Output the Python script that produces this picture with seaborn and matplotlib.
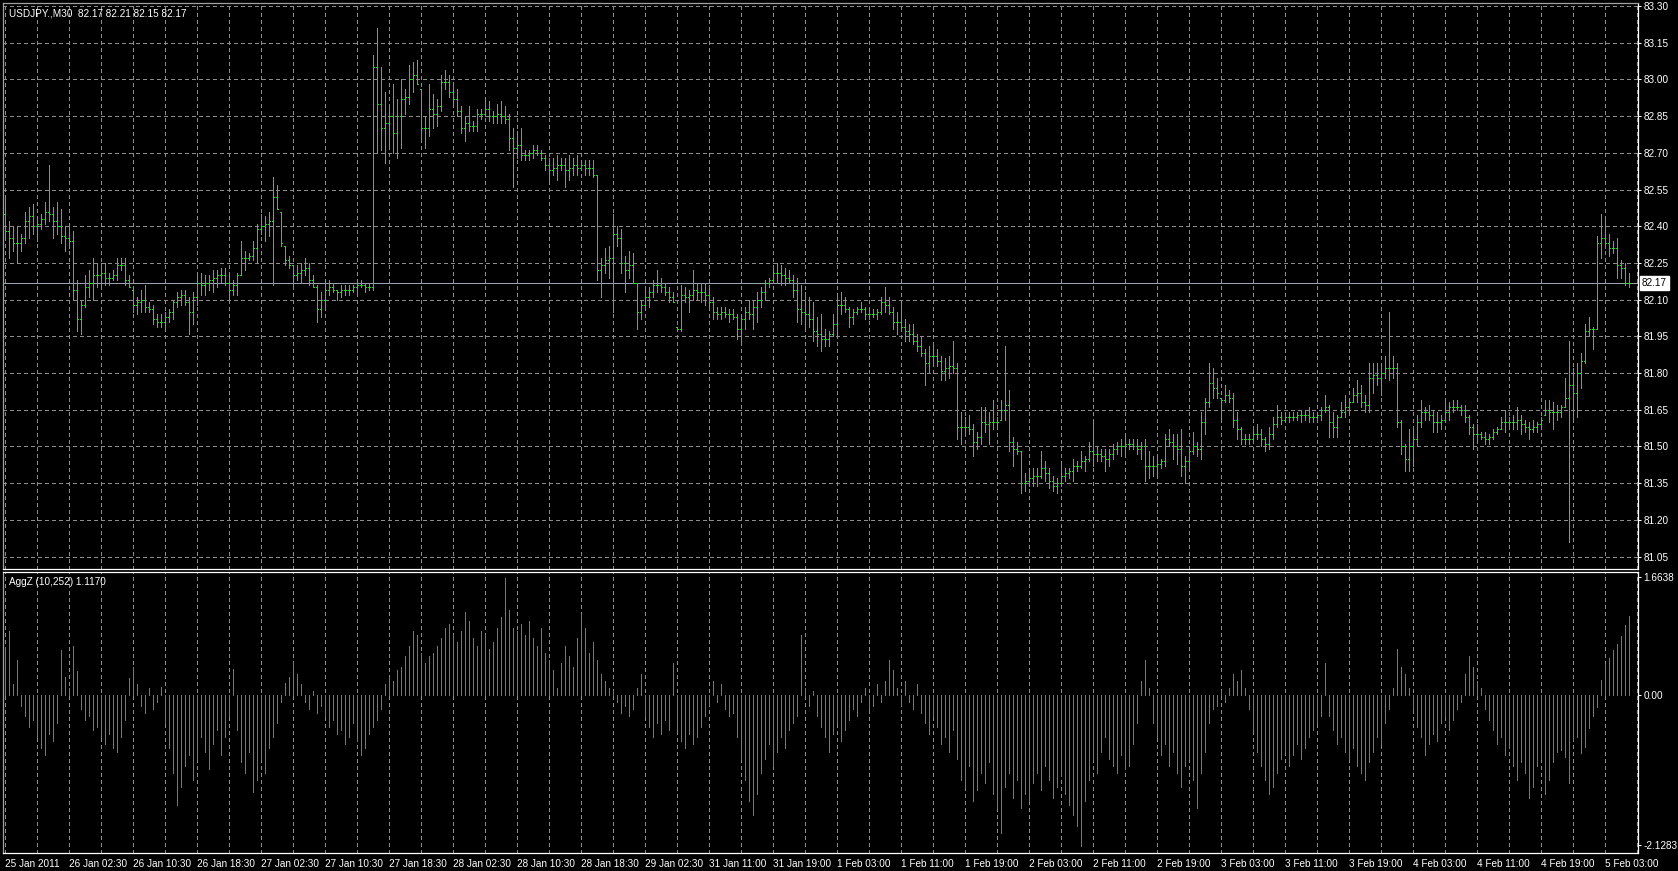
import numpy as np
import matplotlib
matplotlib.use("Agg")
import matplotlib.pyplot as plt
import seaborn as sns
from matplotlib.transforms import blended_transform_factory

# USDJPY M30 bars (bar 0 = 25 Jan 18:30)
highs = [
    82.51, 82.42, 82.40, 82.40, 82.37, 82.46, 82.48, 82.49, 82.43, 82.45,
    82.50, 82.65, 82.48, 82.50, 82.47, 82.40, 82.40, 82.38, 82.18, 82.10,
    82.20, 82.22, 82.27, 82.25, 82.25, 82.25, 82.21, 82.22, 82.27, 82.27,
    82.27, 82.20, 82.14, 82.11, 82.14, 82.16, 82.09, 82.08, 82.04, 82.04,
    82.05, 82.06, 82.10, 82.13, 82.14, 82.14, 82.11, 82.13, 82.21, 82.21,
    82.20, 82.20, 82.22, 82.22, 82.23, 82.23, 82.21, 82.18, 82.21, 82.34,
    82.30, 82.29, 82.34, 82.41, 82.45, 82.44, 82.46, 82.60, 82.57, 82.46,
    82.32, 82.28, 82.24, 82.24, 82.25, 82.27, 82.25, 82.20, 82.16, 82.13,
    82.17, 82.18, 82.17, 82.14, 82.16, 82.16, 82.16, 82.16, 82.18, 82.18,
    82.17, 82.17, 83.10, 83.21, 83.05, 82.95, 82.90, 82.98, 82.92, 83.00,
    82.96, 83.06, 83.07, 83.08, 82.96, 82.85, 82.98, 82.94, 82.92, 83.02,
    83.04, 83.02, 82.99, 82.96, 82.89, 82.85, 82.89, 82.83, 82.88, 82.88,
    82.92, 82.91, 82.87, 82.90, 82.91, 82.89, 82.86, 82.80, 82.79, 82.80,
    82.71, 82.71, 82.73, 82.73, 82.71, 82.69, 82.68, 82.68, 82.69, 82.68,
    82.68, 82.69, 82.68, 82.69, 82.67, 82.67, 82.67, 82.67, 82.61, 82.27,
    82.31, 82.32, 82.45, 82.40, 82.39, 82.28, 82.30, 82.29, 82.17, 82.10,
    82.15, 82.15, 82.18, 82.22, 82.19, 82.17, 82.15, 82.13, 81.99, 82.16,
    82.15, 82.14, 82.22, 82.17, 82.17, 82.17, 82.16, 82.11, 82.07, 82.07,
    82.07, 82.06, 82.06, 82.04, 82.04, 82.07, 82.10, 82.10, 82.13, 82.15,
    82.18, 82.19, 82.23, 82.25, 82.24, 82.23, 82.22, 82.20, 82.19, 82.16,
    82.13, 82.11, 82.09, 82.03, 82.04, 81.98, 81.97, 82.04, 82.11, 82.13,
    82.11, 82.07, 82.06, 82.07, 82.09, 82.07, 82.06, 82.06, 82.06, 82.11,
    82.15, 82.11, 82.07, 82.05, 82.09, 82.02, 82.00, 82.00, 81.96, 81.95,
    81.90, 81.91, 81.91, 81.90, 81.87, 81.86, 81.87, 81.93, 81.84, 81.64,
    81.62, 81.63, 81.59, 81.56, 81.66, 81.66, 81.64, 81.69, 81.62, 81.69,
    81.91, 81.73, 81.54, 81.52, 81.48, 81.39, 81.41, 81.41, 81.41, 81.48,
    81.44, 81.41, 81.38, 81.37, 81.43, 81.41, 81.41, 81.45, 81.44, 81.48,
    81.46, 81.52, 81.60, 81.50, 81.49, 81.49, 81.49, 81.51, 81.52, 81.53,
    81.55, 81.53, 81.53, 81.53, 81.52, 81.53, 81.48, 81.46, 81.46, 81.45,
    81.55, 81.57, 81.55, 81.55, 81.57, 81.46, 81.49, 81.56, 81.52, 81.64,
    81.70, 81.84, 81.82, 81.78, 81.70, 81.75, 81.73, 81.72, 81.64, 81.58,
    81.55, 81.55, 81.57, 81.59, 81.57, 81.54, 81.58, 81.62, 81.67, 81.64,
    81.63, 81.64, 81.64, 81.64, 81.65, 81.65, 81.66, 81.64, 81.64, 81.66,
    81.71, 81.67, 81.64, 81.63, 81.68, 81.71, 81.69, 81.74, 81.77, 81.75,
    81.71, 81.84, 81.84, 81.84, 81.84, 81.87, 82.05, 81.87, 81.84, 81.61,
    81.51, 81.57, 81.57, 81.63, 81.69, 81.66, 81.67, 81.65, 81.64, 81.63,
    81.68, 81.68, 81.69, 81.69, 81.67, 81.67, 81.63, 81.59, 81.59, 81.56,
    81.56, 81.55, 81.57, 81.58, 81.62, 81.65, 81.62, 81.63, 81.66, 81.63,
    81.61, 81.60, 81.61, 81.60, 81.62, 81.69, 81.69, 81.68, 81.67, 81.67,
    81.78, 81.93, 81.82, 81.84, 81.88, 82.00, 82.03, 81.99, 82.36, 82.45,
    82.43, 82.37, 82.34, 82.35, 82.26, 82.25, 82.21,
]
lows = [
    82.35, 82.27, 82.30, 82.25, 82.30, 82.33, 82.35, 82.37, 82.34, 82.39,
    82.41, 82.42, 82.35, 82.37, 82.33, 82.30, 82.31, 82.10, 81.97, 81.96,
    82.07, 82.11, 82.10, 82.15, 82.16, 82.16, 82.16, 82.18, 82.18, 82.22,
    82.16, 82.15, 82.05, 82.04, 82.05, 82.05, 82.05, 82.00, 81.99, 81.99,
    81.97, 82.01, 82.02, 82.07, 82.08, 82.08, 81.96, 82.00, 82.08, 82.12,
    82.12, 82.14, 82.13, 82.15, 82.17, 82.16, 82.10, 82.12, 82.12, 82.20,
    82.22, 82.26, 82.26, 82.25, 82.37, 82.34, 82.36, 82.16, 82.47, 82.32,
    82.24, 82.23, 82.15, 82.18, 82.17, 82.20, 82.16, 82.15, 82.01, 82.03,
    82.06, 82.12, 82.13, 82.10, 82.11, 82.12, 82.12, 82.13, 82.13, 82.15,
    82.13, 82.14, 82.14, 82.70, 82.71, 82.66, 82.73, 82.70, 82.68, 82.72,
    82.86, 82.90, 82.95, 82.98, 82.75, 82.72, 82.77, 82.80, 82.81, 82.87,
    82.96, 82.93, 82.90, 82.85, 82.78, 82.75, 82.79, 82.79, 82.79, 82.84,
    82.85, 82.83, 82.82, 82.82, 82.82, 82.82, 82.71, 82.56, 82.68, 82.67,
    82.67, 82.67, 82.68, 82.69, 82.67, 82.63, 82.59, 82.61, 82.59, 82.63,
    82.56, 82.59, 82.61, 82.61, 82.63, 82.61, 82.61, 82.60, 82.18, 82.11,
    82.21, 82.19, 82.05, 82.32, 82.21, 82.13, 82.19, 82.17, 81.98, 82.02,
    82.07, 82.07, 82.11, 82.13, 82.13, 82.12, 82.09, 82.09, 81.98, 81.97,
    82.09, 82.05, 82.10, 82.10, 82.09, 82.08, 82.07, 82.02, 82.02, 82.02,
    82.03, 82.01, 82.02, 81.94, 81.92, 81.98, 82.02, 81.98, 82.01, 82.07,
    82.10, 82.15, 82.17, 82.17, 82.16, 82.16, 82.17, 82.11, 82.01, 82.00,
    81.98, 81.99, 81.93, 81.91, 81.89, 81.91, 81.91, 81.95, 81.95, 82.04,
    82.05, 81.99, 82.00, 82.04, 82.05, 82.02, 82.02, 82.03, 82.02, 82.04,
    82.05, 82.04, 81.98, 81.96, 81.97, 81.93, 81.93, 81.92, 81.89, 81.87,
    81.75, 81.80, 81.84, 81.83, 81.77, 81.77, 81.78, 81.80, 81.53, 81.51,
    81.55, 81.55, 81.46, 81.49, 81.51, 81.56, 81.51, 81.57, 81.57, 81.61,
    81.61, 81.48, 81.42, 81.47, 81.31, 81.32, 81.34, 81.34, 81.34, 81.37,
    81.36, 81.33, 81.32, 81.31, 81.34, 81.36, 81.37, 81.36, 81.40, 81.41,
    81.40, 81.44, 81.42, 81.44, 81.44, 81.40, 81.42, 81.45, 81.47, 81.46,
    81.47, 81.49, 81.49, 81.47, 81.45, 81.36, 81.37, 81.38, 81.37, 81.41,
    81.42, 81.50, 81.45, 81.43, 81.38, 81.35, 81.41, 81.47, 81.46, 81.45,
    81.55, 81.66, 81.70, 81.70, 81.60, 81.68, 81.68, 81.58, 81.53, 81.51,
    81.51, 81.51, 81.52, 81.53, 81.50, 81.48, 81.49, 81.53, 81.58, 81.59,
    81.60, 81.60, 81.61, 81.61, 81.60, 81.61, 81.60, 81.60, 81.60, 81.61,
    81.64, 81.54, 81.54, 81.54, 81.62, 81.62, 81.64, 81.68, 81.68, 81.66,
    81.64, 81.64, 81.72, 81.75, 81.71, 81.78, 81.77, 81.78, 81.58, 81.47,
    81.40, 81.40, 81.42, 81.50, 81.58, 81.61, 81.61, 81.56, 81.56, 81.57,
    81.60, 81.61, 81.64, 81.65, 81.63, 81.60, 81.55, 81.49, 81.53, 81.53,
    81.51, 81.51, 81.53, 81.55, 81.57, 81.56, 81.57, 81.57, 81.57, 81.55,
    81.56, 81.53, 81.56, 81.56, 81.57, 81.63, 81.60, 81.57, 81.61, 81.62,
    81.66, 81.11, 81.61, 81.62, 81.74, 81.84, 81.95, 81.90, 81.98, 82.27,
    82.31, 82.28, 82.29, 82.19, 82.19, 82.16, 82.15,
]
closes = [
    82.38, 82.35, 82.33, 82.33, 82.35, 82.42, 82.44, 82.40, 82.41, 82.43,
    82.46, 82.45, 82.42, 82.40, 82.36, 82.35, 82.34, 82.14, 82.02, 82.08,
    82.15, 82.17, 82.20, 82.20, 82.21, 82.19, 82.19, 82.20, 82.24, 82.24,
    82.18, 82.15, 82.08, 82.09, 82.10, 82.07, 82.06, 82.02, 82.01, 82.01,
    82.03, 82.05, 82.09, 82.11, 82.12, 82.09, 82.05, 82.11, 82.17, 82.16,
    82.17, 82.18, 82.19, 82.20, 82.20, 82.17, 82.14, 82.16, 82.20, 82.27,
    82.27, 82.28, 82.31, 82.39, 82.40, 82.41, 82.42, 82.52, 82.47, 82.33,
    82.26, 82.24, 82.20, 82.21, 82.22, 82.23, 82.18, 82.15, 82.06, 82.10,
    82.14, 82.15, 82.14, 82.13, 82.14, 82.14, 82.14, 82.15, 82.16, 82.16,
    82.15, 82.15, 83.05, 82.90, 82.80, 82.82, 82.85, 82.78, 82.85, 82.92,
    82.93, 83.00, 83.02, 82.98, 82.80, 82.80, 82.88, 82.86, 82.89, 82.99,
    82.99, 82.95, 82.92, 82.87, 82.80, 82.82, 82.81, 82.81, 82.86, 82.86,
    82.88, 82.85, 82.85, 82.86, 82.85, 82.84, 82.76, 82.72, 82.73, 82.69,
    82.69, 82.70, 82.71, 82.70, 82.68, 82.65, 82.63, 82.64, 82.65, 82.65,
    82.63, 82.64, 82.65, 82.64, 82.65, 82.64, 82.64, 82.61, 82.22, 82.24,
    82.26, 82.27, 82.37, 82.35, 82.25, 82.22, 82.24, 82.17, 82.05, 82.08,
    82.11, 82.13, 82.16, 82.16, 82.15, 82.13, 82.11, 82.09, 81.98, 82.12,
    82.11, 82.12, 82.14, 82.13, 82.13, 82.12, 82.09, 82.05, 82.04, 82.05,
    82.04, 82.04, 82.03, 81.98, 82.02, 82.05, 82.04, 82.07, 82.10, 82.13,
    82.17, 82.18, 82.21, 82.21, 82.20, 82.19, 82.18, 82.14, 82.06, 82.05,
    82.04, 82.02, 81.97, 81.96, 81.94, 81.94, 81.96, 82.00, 82.08, 82.08,
    82.06, 82.03, 82.05, 82.06, 82.06, 82.04, 82.04, 82.04, 82.05, 82.09,
    82.08, 82.05, 82.01, 82.01, 81.99, 81.97, 81.96, 81.93, 81.91, 81.88,
    81.84, 81.87, 81.87, 81.85, 81.81, 81.82, 81.83, 81.82, 81.58, 81.58,
    81.58, 81.57, 81.52, 81.54, 81.60, 81.59, 81.60, 81.60, 81.60, 81.65,
    81.67, 81.52, 81.49, 81.48, 81.35, 81.36, 81.37, 81.38, 81.38, 81.41,
    81.39, 81.36, 81.34, 81.35, 81.38, 81.39, 81.40, 81.42, 81.42, 81.44,
    81.45, 81.48, 81.47, 81.47, 81.46, 81.45, 81.47, 81.49, 81.50, 81.50,
    81.51, 81.51, 81.50, 81.49, 81.50, 81.42, 81.42, 81.42, 81.43, 81.44,
    81.53, 81.52, 81.50, 81.49, 81.42, 81.44, 81.48, 81.50, 81.49, 81.60,
    81.68, 81.76, 81.74, 81.72, 81.69, 81.71, 81.70, 81.61, 81.57, 81.53,
    81.53, 81.53, 81.55, 81.55, 81.53, 81.51, 81.55, 81.59, 81.62, 81.61,
    81.62, 81.62, 81.62, 81.63, 81.63, 81.63, 81.62, 81.62, 81.63, 81.65,
    81.66, 81.60, 81.58, 81.62, 81.64, 81.66, 81.68, 81.71, 81.72, 81.68,
    81.67, 81.78, 81.79, 81.78, 81.80, 81.82, 81.82, 81.82, 81.60, 81.50,
    81.45, 81.50, 81.53, 81.60, 81.64, 81.64, 81.63, 81.60, 81.60, 81.61,
    81.64, 81.66, 81.66, 81.66, 81.65, 81.62, 81.58, 81.55, 81.55, 81.54,
    81.53, 81.54, 81.56, 81.57, 81.60, 81.60, 81.60, 81.60, 81.61, 81.59,
    81.58, 81.57, 81.58, 81.59, 81.61, 81.65, 81.64, 81.64, 81.64, 81.66,
    81.70, 81.75, 81.72, 81.80, 81.85, 81.97, 81.98, 81.98, 82.33, 82.35,
    82.33, 82.31, 82.31, 82.24, 82.23, 82.17, 82.17,
]
first_open = 82.45

# AggZ (10,252) histogram
aggz = [
    0.68, 0.90, 0.15, 0.50, -0.15, -0.30, -0.45, -0.35, -0.60, -0.75,
    -0.85, -0.55, -0.65, -0.40, 0.63, 0.26, 0.10, 0.69, 0.34, -0.20,
    -0.35, -0.30, -0.50, -0.45, -0.60, -0.70, -0.55, -0.75, -0.80, -0.60,
    -0.35, 0.24, 0.39, 0.15, -0.15, -0.25, 0.10, -0.20, -0.10, 0.12,
    -0.40, -0.75, -1.10, -1.55, -1.30, -1.00, -0.85, -1.20, -0.90, -0.60,
    -0.80, -1.05, -0.70, -0.50, -0.85, -0.60, -0.30, 0.37, -0.50, -0.95,
    -1.10, -0.80, -1.37, -1.20, -0.90, -1.10, -0.75, -0.60, -0.40, -0.10,
    0.17, 0.26, 0.47, 0.30, 0.15, -0.10, -0.20, 0.05, -0.25, -0.15,
    -0.30, -0.45, -0.35, -0.55, -0.50, -0.70, -0.60, -0.40, -0.65, -0.85,
    -0.75, -0.55, -0.45, -0.35, -0.20, 0.15, 0.25, 0.20, 0.35, 0.40,
    0.55, 0.70, 0.90, 0.85, 0.60, 0.45, 0.55, 0.60, 0.70, 0.80,
    0.95, 1.00, 0.85, 0.75, 0.90, 1.17, 1.05, 0.80, 0.70, 0.90,
    0.85, 0.65, 0.75, 0.95, 1.10, 1.66, 1.20, 0.95, 0.90, 1.00,
    0.85, 1.05, 0.80, 0.70, 0.95, 0.60, 0.50, 0.35, 0.10, 0.45,
    0.70, 0.55, 0.40, 0.80, 1.15, 0.95, 0.60, 0.75, 0.50, 0.30,
    0.20, 0.10, 0.05, -0.10, -0.25, -0.15, -0.30, -0.20, 0.10, 0.30,
    -0.30, -0.45, -0.60, -0.40, -0.55, -0.35, -0.50, 0.45, -0.50, -0.65,
    -0.75, -0.55, -0.70, -0.60, -0.45, -0.30, -0.15, 0.20, -0.10, 0.15,
    -0.20, -0.30, -0.25, -0.60, -0.90, -1.20, -1.50, -1.70, -1.40, -1.10,
    -0.90, -0.70, -1.00, -0.80, -0.60, -0.75, -0.50, -0.40, -0.30, 0.85,
    0.10, -0.15, 0.05, -0.30, -0.45, -0.60, -0.80, -0.55, -0.40, -0.65,
    -0.50, -0.35, -0.20, -0.30, -0.10, 0.10, -0.20, -0.15, 0.15, -0.10,
    0.20, 0.50, 0.35, 0.10, -0.15, 0.20, -0.10, -0.20, 0.15, -0.25,
    -0.40, -0.55, -0.30, -0.45, -0.70, -0.60, -0.80, -0.50, -0.90, -1.20,
    -1.30, -1.00, -1.50, -1.35, -1.10, -1.25, -0.95, -1.40, -1.60, -1.95,
    -1.30, -1.10, -1.45, -1.20, -1.60, -1.40, -1.50, -1.25, -1.10, -1.35,
    -1.00, -1.20, -1.45, -1.30, -1.15, -1.40, -1.55, -1.70, -1.85, -2.13,
    -1.50, -1.20, -0.90, -1.10, -0.80, -0.60, -0.90, -1.00, -1.10, -0.85,
    -1.05, -1.00, -0.70, -0.40, 0.20, 0.50, 0.10, -0.40, -0.60, -0.85,
    -0.70, -1.00, -0.80, -1.10, -1.30, -1.00, -0.90, -1.20, -1.60, -1.10,
    -0.80, -0.40, -0.20, -0.15, 0.05, -0.10, 0.10, 0.30, 0.20, 0.35,
    0.10, -0.20, -0.50, -0.80, -1.00, -1.20, -1.40, -1.30, -1.10, -0.90,
    -0.80, -1.00, -0.85, -0.70, -0.90, -0.75, -0.60, -0.50, -0.40, -0.30,
    0.45, -0.30, -0.50, -0.70, -0.60, -0.80, -0.90, -0.75, -1.00, -1.10,
    -1.20, -0.95, -0.80, -0.60, -0.70, -0.40, -0.20, 0.10, 0.65, 0.40,
    0.30, 0.10, -0.20, -0.45, -0.60, -0.85, -0.70, -0.55, -0.65, -0.40,
    -0.30, -0.50, -0.35, -0.20, -0.10, 0.30, 0.55, 0.40, 0.20, 0.10,
    -0.20, -0.35, -0.50, -0.70, -0.60, -0.85, -0.75, -1.00, -1.20, -0.95,
    -1.10, -1.45, -1.30, -1.00, -0.90, -1.40, -1.20, -0.95, -0.80, -0.78,
    -0.87, -1.24, -0.64, -0.59, -0.82, -0.73, -0.47, -0.30, -0.17, 0.21,
    0.44, 0.53, 0.64, 0.72, 0.83, 0.99, 1.12,
]

time_labels = ['25 Jan 2011', '26 Jan 02:30', '26 Jan 10:30', '26 Jan 18:30',
               '27 Jan 02:30', '27 Jan 10:30', '27 Jan 18:30', '28 Jan 02:30',
               '28 Jan 10:30', '28 Jan 18:30', '29 Jan 02:30', '31 Jan 11:00',
               '31 Jan 19:00', '1 Feb 03:00', '1 Feb 11:00', '1 Feb 19:00',
               '2 Feb 03:00', '2 Feb 11:00', '2 Feb 19:00', '3 Feb 03:00',
               '3 Feb 11:00', '3 Feb 19:00', '4 Feb 03:00', '4 Feb 11:00',
               '4 Feb 19:00', '5 Feb 03:00']
price_ticks = [81.05, 81.20, 81.35, 81.50, 81.65, 81.80, 81.95, 82.10,
               82.25, 82.40, 82.55, 82.70, 82.85, 83.00, 83.15, 83.30]
aggz_ticks = [1.6638, 0.0, -2.1283]
aggz_tick_labels = ['1.6638', '0.00', '-2.1283']
last_price = 82.17

BAR_GREEN = '#2fcf2f'
HIST_RED = '#d8532d'
GRID_GRAY = '#8c8c8c'
LW = 0.5  # drawn without antialiasing -> 1 px lines

sns.set_theme(style='dark', rc={
    'figure.facecolor': 'black', 'axes.facecolor': 'black',
    'axes.edgecolor': 'white', 'text.color': 'white',
    'xtick.color': 'white', 'ytick.color': 'white',
    'lines.scale_dashes': False,
})
plt.rcParams['font.family'] = ['Liberation Sans', 'DejaVu Sans']

W, H = 1678, 871
fig = plt.figure(figsize=(W / 100, H / 100), dpi=100)
ax = fig.add_axes([3 / W, 1 - 569 / H, 1635 / W, 566 / H])
ax2 = fig.add_axes([3 / W, 1 - 853 / H, 1635 / W, 281 / H])

x = np.arange(len(highs))
opens = np.clip(np.r_[first_open, closes[:-1]], lows, highs)

grid_kw = dict(color=GRID_GRAY, lw=LW, ls=(0, (2.2, 2.2)), zorder=0, antialiased=False)
for p in price_ticks:
    ax.axhline(p, **grid_kw)
for k in range(0, 409, 8):
    ax.axvline(k, **grid_kw)
    ax2.axvline(k, **grid_kw)

# price bars
bar_kw = dict(color=BAR_GREEN, lw=LW, antialiased=False, zorder=3)
ax.vlines(x, lows, highs, **bar_kw)
ax.hlines(opens, x - 0.3, x, **bar_kw)
ax.hlines(closes, x, x + 0.3, **bar_kw)
ax.axhline(last_price, color='#98a2b0', lw=LW, antialiased=False, zorder=2)

ax.set_xlim(-0.5, 408.25)
ax.set_ylim(80.9992, 83.3123)
ax.yaxis.tick_right()
ax.set_yticks(price_ticks)
ax.set_yticklabels([f'{p:.2f}' for p in price_ticks])
ax.tick_params(axis='y', length=2, width=0.75, pad=2, labelsize=7.2, colors='white')
ax.tick_params(axis='x', length=0, labelbottom=False)

tr = blended_transform_factory(ax.transAxes, ax.transData)
ax.text(1 + 4 / 1635, last_price, f'{last_price:.2f}', transform=tr, ha='left',
        va='center', color='black', fontsize=7.2, zorder=6, clip_on=False,
        bbox=dict(boxstyle='square,pad=0.2', fc='white', ec='white'))

# AggZ histogram
ax2.vlines(x, 0, aggz, color=HIST_RED, lw=LW, antialiased=False, zorder=3)
ax2.set_xlim(-0.5, 408.25)
ax2.set_ylim(-2.235, 1.740)
ax2.yaxis.tick_right()
ax2.set_yticks(aggz_ticks)
ax2.set_yticklabels(aggz_tick_labels)
ax2.tick_params(axis='y', length=2, width=0.75, pad=2, labelsize=7.2, colors='white')
ax2.set_xticks(np.arange(0, 16 * len(time_labels), 16))
ax2.set_xticklabels(time_labels, ha='left')
ax2.tick_params(axis='x', length=2.5, width=0.75, pad=2, labelsize=7.2, colors='white')

for a in (ax, ax2):
    a.grid(False)
    for side in ('top', 'bottom', 'right'):
        a.spines[side].set_color('white')
        a.spines[side].set_linewidth(0.9)
    a.spines['left'].set_color('#a0a0a0')
    a.spines['left'].set_linewidth(0.9)
ax.spines['top'].set_color('#a0a0a0')

fig.text(9 / W, 1 - 13 / H, 'USDJPY.,M30  82.17 82.21 82.15 82.17',
         color='white', fontsize=7.2, va='center', ha='left')
fig.text(9 / W, 1 - 582 / H, 'AggZ (10,252) 1.1170',
         color='white', fontsize=7.2, va='center', ha='left')

fig.savefig('out.png', dpi=100, facecolor='black')
